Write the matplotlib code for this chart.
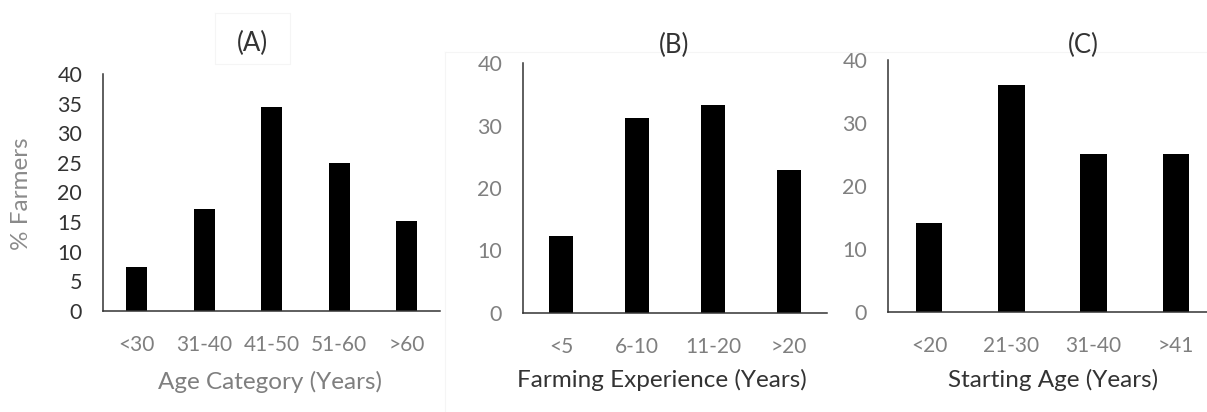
import matplotlib
matplotlib.use("Agg")
import matplotlib.pyplot as plt
from matplotlib.lines import Line2D

plt.rcParams['font.family'] = ['Lato', 'DejaVu Sans']

# Panel A: age of farmers
age_categories = ["<30", "31-40", "41-50", "51-60", ">60"]
age_values = [7.5, 17.2, 34.5, 24.9, 15.2]
age_yticks = [0, 5, 10, 15, 20, 25, 30, 35, 40]

# Panel B: farming experience
exp_categories = ["<5", "6-10", "11-20", ">20"]
exp_values = [12.3, 31.2, 33.3, 22.9]
exp_yticks = [0, 10, 20, 30, 40]

# Panel C: age when starting to farm
start_categories = ["<20", "21-30", "31-40", ">41"]
start_values = [14.1, 36.0, 25.0, 25.0]
start_yticks = [0, 10, 20, 30, 40]

W, H = 1207, 412
fig = plt.figure(figsize=(W / 100, H / 100), dpi=100)
fig.patch.set_facecolor("white")


def px_axes(x0, y_top, x1, y_base):
    return fig.add_axes([x0 / W, 1 - y_base / H, (x1 - x0) / W, (y_base - y_top) / H])


def draw_panel(ax, cats, vals, yticks, width, ytick_color, xtick_color):
    x = range(len(cats))
    ax.bar(x, vals, width=width, color="black", edgecolor="black", linewidth=0)
    ax.set_xlim(-0.5, len(cats) - 0.5)
    ax.set_ylim(0, 40)
    ax.set_yticks(yticks)
    ax.set_xticks(list(x))
    ax.set_xticklabels(cats)
    for s in ("top", "right"):
        ax.spines[s].set_visible(False)
    for s in ("left", "bottom"):
        ax.spines[s].set_color("#333333")
        ax.spines[s].set_linewidth(1.1)
    ax.tick_params(axis="y", length=0, pad=15, labelsize=15.5, labelcolor=ytick_color)
    ax.tick_params(axis="x", length=0, pad=17, labelsize=15, labelcolor=xtick_color)


axA = px_axes(103, 74, 440.5, 311)
draw_panel(axA, age_categories, age_values, age_yticks, 0.31, "#333333", "#7f7f7f")

axB = px_axes(523, 63, 827, 313)
draw_panel(axB, exp_categories, exp_values, exp_yticks, 0.31, "#808080", "#7f7f7f")

axC = px_axes(888, 60, 1217, 312)
draw_panel(axC, start_categories, start_values, start_yticks, 0.32, "#808080", "#7f7f7f")


def ftext(x, y, s, **kw):
    fig.text(x / W, 1 - y / H, s, ha="center", va="center", **kw)


# Panel titles
ftext(252, 43, "(A)", fontsize=18.5, color="#333333")
ftext(674, 45, "(B)", fontsize=18.5, color="#333333")
ftext(1083, 45, "(C)", fontsize=18.5, color="#333333")

# Axis labels
ftext(270.5, 382, "Age Category (Years)", fontsize=17.5, color="#7f7f7f")
ftext(661.5, 380, "Farming Experience (Years)", fontsize=17.5, color="#333333")
ftext(1053, 380, "Starting Age (Years)", fontsize=17.5, color="#333333")
ftext(22, 194, "% Farmers", fontsize=17.5, color="#8a8a8a", rotation=90)


# Faint frame lines around the panels
def fline(xs, ys):
    fig.add_artist(Line2D([v / W for v in xs], [1 - v / H for v in ys],
                          color="#f5f5f5", linewidth=0.8))


fline([445, 445], [52, 412])
fline([445, 1207], [52, 52])
fline([215, 215, 290, 290, 215], [13, 64, 64, 13, 13])

fig.savefig("out.png", dpi=100, facecolor="white")
